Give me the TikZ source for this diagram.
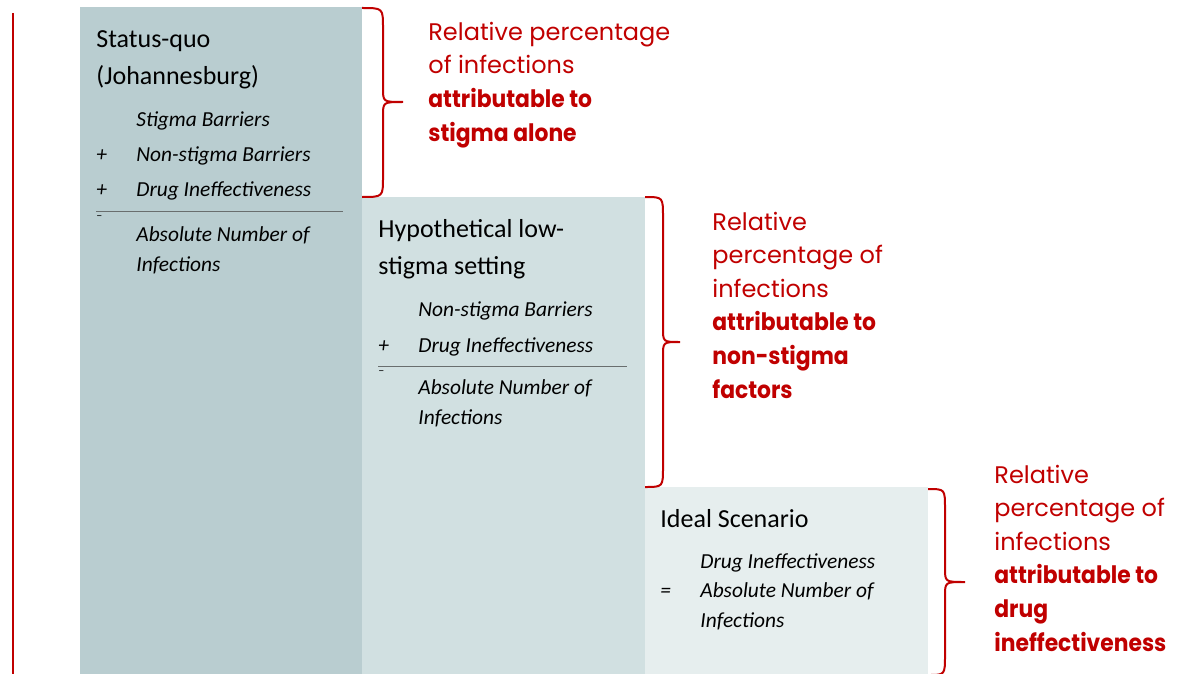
\documentclass[tikz,border=0pt]{standalone}
\usepackage{fontspec}
\setmainfont{Carlito}
\newfontfamily\gothic{Poppins}
\usepackage{xcolor}
\usepackage{tikz}
\usetikzlibrary{scopes}

\definecolor{boxone}{RGB}{185,205,208}
\definecolor{boxtwo}{RGB}{209,224,225}
\definecolor{boxthree}{RGB}{230,238,238}
\definecolor{darkred}{RGB}{192,0,0}
\definecolor{rulegray}{RGB}{105,110,110}

% bold lines of the red labels, a little narrower
\newcommand{\redbold}[1]{\scalebox{0.91}[1]{\bfseries #1}}

\tikzset{
	headtext/.style={anchor=base west, inner sep=0pt, align=left, font={\fontsize{13}{18.5}\selectfont}},
	itemtext/.style={anchor=base west, inner sep=0pt, align=left, font={\fontsize{10.7}{17.75}\selectfont\itshape}},
	sumtext/.style={anchor=base west, inner sep=0pt, align=left, font={\fontsize{10.7}{15}\selectfont\itshape}},
	signtext/.style={anchor=base west, inner sep=0pt, font={\fontsize{10.7}{15}\selectfont\itshape}},
	dashtext/.style={anchor=base west, inner sep=0pt, font={\fontsize{6}{6}\selectfont}},
	redtext/.style={anchor=base west, inner sep=0pt, align=left, text=darkred, font={\gothic\fontsize{12}{16.8}\selectfont}},
	bracestyle/.style={draw=darkred, line width=1pt},
	sumrule/.style={draw=rulegray, line width=0.5pt}
}

\begin{document}
\begin{tikzpicture}[x=0.5pt,y=-0.5pt]
	\useasboundingbox (0,0) rectangle (1194,674);

	% left margin line
	\draw[darkred, line width=0.8pt] (13,13) -- (13,674);

	% the three columns
	\fill[boxone] (80,7) rectangle (362,674);
	\fill[boxtwo] (362,197) rectangle (645,674);
	\fill[boxthree] (645,487) rectangle (928,674);

	% status quo (nodes sit on the baseline of their last line)
	\node[headtext] (sqhead) at (96,85) {Status-quo\\(Johannesburg)};
	\node[itemtext] (sqitems) at (136,197) {Stigma Barriers\\Non-stigma Barriers\\Drug Ineffectiveness};
	\node[signtext] (sqplusa) at (96,162) {+};
	\node[signtext] (sqplusb) at (96,197) {+};
	\draw[sumrule] (96,211) -- (343,211);
	\node[dashtext] (sqdash) at (96,219) {--};
	\node[sumtext] (sqsum) at (136,271) {Absolute Number of\\Infections};

	% low stigma
	\node[headtext] (lowhead) at (378,274) {Hypothetical low-\\stigma setting};
	\node[itemtext] (lowitems) at (418,352) {Non-stigma Barriers\\Drug Ineffectiveness};
	\node[signtext] (lowplus) at (378,352) {+};
	\draw[sumrule] (378,366) -- (627,366);
	\node[dashtext] (lowdash) at (378,374) {--};
	\node[sumtext] (lowsum) at (418,424) {Absolute Number of\\Infections};

	% ideal
	\node[headtext] (idealhead) at (660,527) {Ideal Scenario};
	\node[itemtext] (idealitems) at (700,568) {Drug Ineffectiveness};
	\node[signtext] (idealeq) at (660,597) {=};
	\node[sumtext] (idealsum) at (700,627) {Absolute Number of\\Infections};

	% braces
	\draw[bracestyle] (362,8) .. controls (383,8) .. (383,28) -- (383,88) .. controls (383,102) .. (403,102)
		.. controls (383,102) .. (383,116) -- (383,177) .. controls (383,197) .. (362,197);
	\draw[bracestyle] (645,197) .. controls (663,197) .. (663,217) -- (663,328) .. controls (663,342) .. (680,342)
		.. controls (663,342) .. (663,356) -- (663,467) .. controls (663,487) .. (645,487);
	\draw[bracestyle] (928,489) .. controls (945,489) .. (945,509) -- (945,568) .. controls (945,582) .. (965,582)
		.. controls (945,582) .. (945,596) -- (945,655) .. controls (945,675) .. (928,675);

	% labels
	\node[redtext] (stigmalabel) at (428,141) {Relative percentage\\of infections\\\redbold{attributable to}\\\redbold{stigma alone}};
	\node[redtext] (otherlabel) at (712,398) {Relative\\percentage of\\infections\\\redbold{attributable to}\\\redbold{non-stigma}\\\redbold{factors}};
	\node[redtext] (druglabel) at (994,651) {Relative\\percentage of\\infections\\\redbold{attributable to}\\\redbold{drug}\\\redbold{ineffectiveness}};
\end{tikzpicture}
\end{document}
